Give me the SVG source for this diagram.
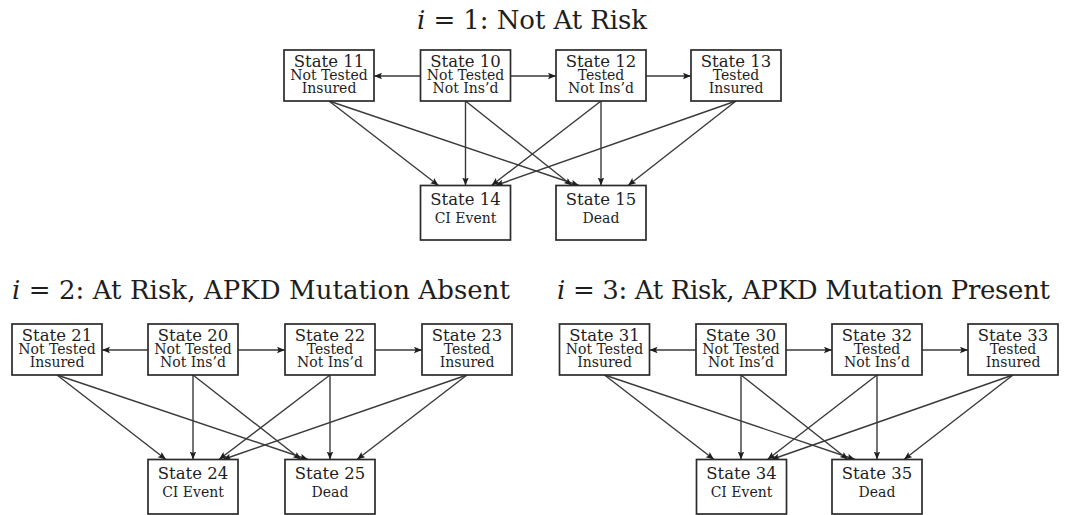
<svg xmlns="http://www.w3.org/2000/svg" width="1066" height="515" viewBox="0 0 1066 515">
<style>
.bg{fill:#ffffff}
.box{fill:#ffffff;stroke:#2b2b2b;stroke-width:1.7}
.title{font-family:"DejaVu Serif","Liberation Serif",serif;font-size:26px;fill:#1e1e1e}
.t1{font-family:"DejaVu Serif","Liberation Serif",serif;font-size:16.5px;fill:#1e1e1e;text-anchor:middle}
.t2{font-family:"DejaVu Serif","Liberation Serif",serif;font-size:14px;fill:#1e1e1e;text-anchor:middle}
.edge{fill:none;stroke:#3a3a3a;stroke-width:1.4;marker-end:url(#arr)}
</style>
<defs>
<marker id="arr" markerUnits="userSpaceOnUse" markerWidth="9" markerHeight="7" refX="8" refY="3.25" orient="auto">
<path d="M0,0 L8,3.25 L0,6.5 L1.6,3.25 z" fill="#1e1e1e"/>
</marker>
</defs>
<rect class="bg" x="0" y="0" width="1066" height="515"/>

<g id="titles">
<text class="title" x="532" y="29" text-anchor="middle" textLength="230"><tspan font-style="italic">i</tspan> = 1: Not At Risk</text>
<text class="title" x="12" y="299" textLength="498"><tspan font-style="italic">i</tspan> = 2: At Risk, APKD Mutation Absent</text>
<text class="title" x="557" y="299" textLength="493"><tspan font-style="italic">i</tspan> = 3: At Risk, APKD Mutation Present</text>
</g>

<g id="connectors">
<g id="connectors-1">
<line class="edge" x1="420.5" y1="76" x2="374" y2="76"/>
<line class="edge" x1="510.5" y1="76" x2="556" y2="76"/>
<line class="edge" x1="646" y1="76" x2="691" y2="76"/>
<line class="edge" x1="329" y1="101" x2="438.5" y2="185.5"/>
<line class="edge" x1="329" y1="101" x2="579" y2="185.5"/>
<line class="edge" x1="465.5" y1="101" x2="465.5" y2="185.5"/>
<line class="edge" x1="465.5" y1="101" x2="572" y2="185.5"/>
<line class="edge" x1="601" y1="101" x2="491.5" y2="185.5"/>
<line class="edge" x1="601" y1="101" x2="601" y2="185.5"/>
<line class="edge" x1="736" y1="101" x2="495.5" y2="185.5"/>
<line class="edge" x1="736" y1="101" x2="628" y2="185.5"/>
</g>
<g id="connectors-2">
<line class="edge" x1="148" y1="350" x2="102" y2="350"/>
<line class="edge" x1="238" y1="350" x2="285" y2="350"/>
<line class="edge" x1="375" y1="350" x2="422" y2="350"/>
<line class="edge" x1="57" y1="375" x2="166" y2="459.5"/>
<line class="edge" x1="57" y1="375" x2="308" y2="459.5"/>
<line class="edge" x1="193" y1="375" x2="193" y2="459.5"/>
<line class="edge" x1="193" y1="375" x2="301" y2="459.5"/>
<line class="edge" x1="330" y1="375" x2="219" y2="459.5"/>
<line class="edge" x1="330" y1="375" x2="330" y2="459.5"/>
<line class="edge" x1="467" y1="375" x2="223" y2="459.5"/>
<line class="edge" x1="467" y1="375" x2="357" y2="459.5"/>
</g>
<g id="connectors-3">
<line class="edge" x1="696" y1="350" x2="649.5" y2="350"/>
<line class="edge" x1="786" y1="350" x2="832" y2="350"/>
<line class="edge" x1="922" y1="350" x2="968" y2="350"/>
<line class="edge" x1="604.5" y1="375" x2="714" y2="459.5"/>
<line class="edge" x1="604.5" y1="375" x2="855" y2="459.5"/>
<line class="edge" x1="741" y1="375" x2="741" y2="459.5"/>
<line class="edge" x1="741" y1="375" x2="848" y2="459.5"/>
<line class="edge" x1="877" y1="375" x2="767.5" y2="459.5"/>
<line class="edge" x1="877" y1="375" x2="877" y2="459.5"/>
<line class="edge" x1="1013" y1="375" x2="771.5" y2="459.5"/>
<line class="edge" x1="1013" y1="375" x2="904" y2="459.5"/>
</g>
</g>

<g id="nodes">
<g id="state-11" transform="translate(284,50)"><rect class="box" width="90" height="51"/><text class="t1" x="45" y="16.5">State 11</text><text class="t2" x="45" y="29.5">Not Tested</text><text class="t2" x="45" y="42.5">Insured</text></g>
<g id="state-10" transform="translate(420.5,50)"><rect class="box" width="90" height="51"/><text class="t1" x="45" y="16.5">State 10</text><text class="t2" x="45" y="29.5">Not Tested</text><text class="t2" x="45" y="42.5">Not Ins’d</text></g>
<g id="state-12" transform="translate(556,50)"><rect class="box" width="90" height="51"/><text class="t1" x="45" y="16.5">State 12</text><text class="t2" x="45" y="29.5">Tested</text><text class="t2" x="45" y="42.5">Not Ins’d</text></g>
<g id="state-13" transform="translate(691,50)"><rect class="box" width="90" height="51"/><text class="t1" x="45" y="16.5">State 13</text><text class="t2" x="45" y="29.5">Tested</text><text class="t2" x="45" y="42.5">Insured</text></g>
<g id="state-14" transform="translate(420.5,185.5)"><rect class="box" width="90" height="54.5"/><text class="t1" x="45" y="19.5">State 14</text><text class="t2" x="45" y="37.8">CI Event</text></g>
<g id="state-15" transform="translate(556,185.5)"><rect class="box" width="90" height="54.5"/><text class="t1" x="45" y="19.5">State 15</text><text class="t2" x="45" y="37.8">Dead</text></g>

<g id="state-21" transform="translate(12,324)"><rect class="box" width="90" height="51"/><text class="t1" x="45" y="16.5">State 21</text><text class="t2" x="45" y="29.5">Not Tested</text><text class="t2" x="45" y="42.5">Insured</text></g>
<g id="state-20" transform="translate(148,324)"><rect class="box" width="90" height="51"/><text class="t1" x="45" y="16.5">State 20</text><text class="t2" x="45" y="29.5">Not Tested</text><text class="t2" x="45" y="42.5">Not Ins’d</text></g>
<g id="state-22" transform="translate(285,324)"><rect class="box" width="90" height="51"/><text class="t1" x="45" y="16.5">State 22</text><text class="t2" x="45" y="29.5">Tested</text><text class="t2" x="45" y="42.5">Not Ins’d</text></g>
<g id="state-23" transform="translate(422,324)"><rect class="box" width="90" height="51"/><text class="t1" x="45" y="16.5">State 23</text><text class="t2" x="45" y="29.5">Tested</text><text class="t2" x="45" y="42.5">Insured</text></g>
<g id="state-24" transform="translate(148,459.5)"><rect class="box" width="90" height="54.5"/><text class="t1" x="45" y="19.5">State 24</text><text class="t2" x="45" y="37.8">CI Event</text></g>
<g id="state-25" transform="translate(285,459.5)"><rect class="box" width="90" height="54.5"/><text class="t1" x="45" y="19.5">State 25</text><text class="t2" x="45" y="37.8">Dead</text></g>

<g id="state-31" transform="translate(559.5,324)"><rect class="box" width="90" height="51"/><text class="t1" x="45" y="16.5">State 31</text><text class="t2" x="45" y="29.5">Not Tested</text><text class="t2" x="45" y="42.5">Insured</text></g>
<g id="state-30" transform="translate(696,324)"><rect class="box" width="90" height="51"/><text class="t1" x="45" y="16.5">State 30</text><text class="t2" x="45" y="29.5">Not Tested</text><text class="t2" x="45" y="42.5">Not Ins’d</text></g>
<g id="state-32" transform="translate(832,324)"><rect class="box" width="90" height="51"/><text class="t1" x="45" y="16.5">State 32</text><text class="t2" x="45" y="29.5">Tested</text><text class="t2" x="45" y="42.5">Not Ins’d</text></g>
<g id="state-33" transform="translate(968,324)"><rect class="box" width="90" height="51"/><text class="t1" x="45" y="16.5">State 33</text><text class="t2" x="45" y="29.5">Tested</text><text class="t2" x="45" y="42.5">Insured</text></g>
<g id="state-34" transform="translate(696.5,459.5)"><rect class="box" width="90" height="54.5"/><text class="t1" x="45" y="19.5">State 34</text><text class="t2" x="45" y="37.8">CI Event</text></g>
<g id="state-35" transform="translate(832,459.5)"><rect class="box" width="90" height="54.5"/><text class="t1" x="45" y="19.5">State 35</text><text class="t2" x="45" y="37.8">Dead</text></g>
</g>
</svg>
